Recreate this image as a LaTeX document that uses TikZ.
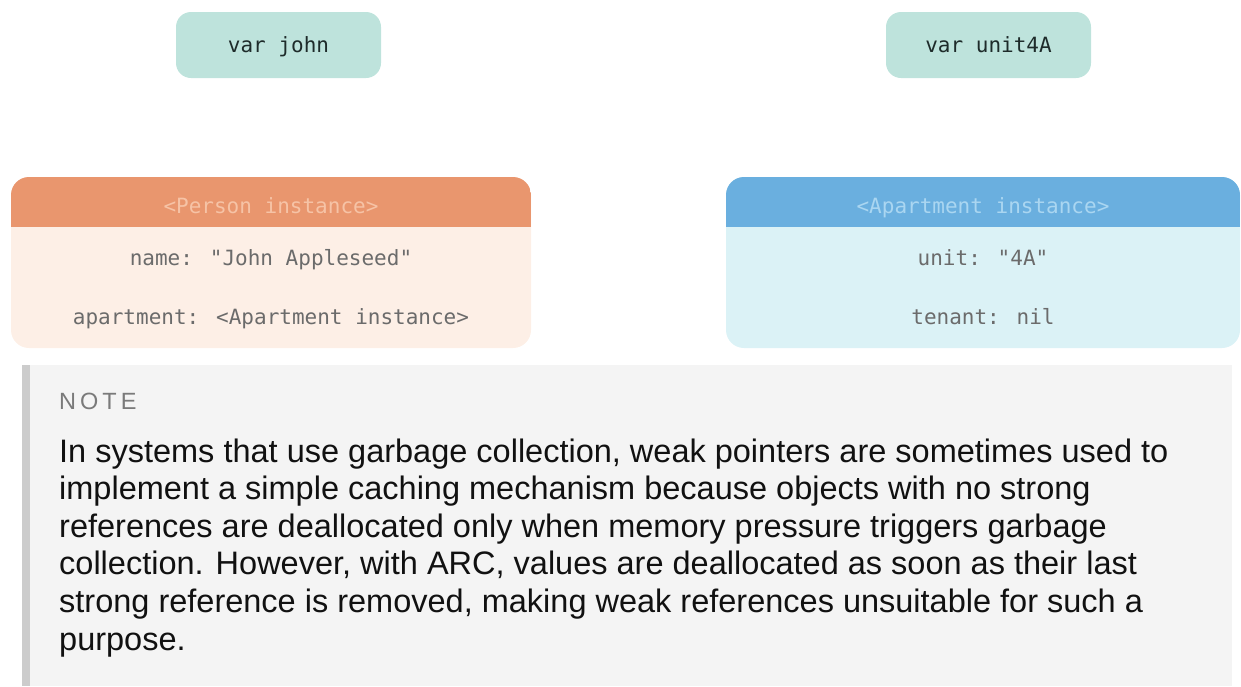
\documentclass[tikz,border=0pt]{standalone}
\usepackage{fontspec}
\setmainfont{Liberation Sans}
\newfontfamily\monof{DejaVu Sans Mono}
\newfontfamily\notefont[LetterSpace=17]{Liberation Sans}
\definecolor{mint}{HTML}{BEE3DC}
\definecolor{phead}{HTML}{E9966E}
\definecolor{pbody}{HTML}{FDEFE6}
\definecolor{ahead}{HTML}{6AAFDF}
\definecolor{abody}{HTML}{DBF2F6}
\definecolor{phtext}{HTML}{F6C3A6}
\definecolor{ahtext}{HTML}{AAD6F1}
\definecolor{fieldtext}{HTML}{6B6B6B}
\definecolor{varText}{HTML}{1E2B2A}
\definecolor{notebg}{HTML}{F4F4F4}
\definecolor{notebar}{HTML}{CCCCCC}
\definecolor{notelabel}{HTML}{7A7A7A}
\definecolor{notetext}{HTML}{111111}
\tikzset{
  varbox/.style={fill=mint, rounded corners=15pt, minimum width=205pt, minimum height=66pt, inner sep=0pt},
  monotext/.style={font=\monof\fontsize{21}{25}\selectfont, inner sep=0pt, anchor=base},
  notelabelstyle/.style={font=\notefont\fontsize{23.5}{27}\selectfont, text=notelabel, inner sep=0pt, anchor=base west},
  noteline/.style={font=\fontsize{32.5}{37.6}\selectfont, text=notetext, inner sep=0pt, anchor=base west},
}
\begin{document}
\begin{tikzpicture}[x=1pt,y=-1pt]
\useasboundingbox (0,0) rectangle (1241,686);
% variables
\node[varbox] (john) at (278.5,45) {};
\node[monotext, text=varText] (johnt) at (278.5,52) {var john};
\node[varbox] (unit) at (988.5,45) {};
\node[monotext, text=varText] (unitt) at (988.5,52) {var unit4A};
% Person instance
\fill[pbody, rounded corners=18pt] (11,177) rectangle (531,348);
\begin{scope}
  \clip[rounded corners=18pt] (11,177) rectangle (531,348);
  \fill[phead] (11,177) rectangle (531,227);
\end{scope}
\node[monotext, text=phtext] (phdr) at (271,213) {<Person instance>};
\node[monotext, text=fieldtext] (pname) at (271,265) {name: "John Appleseed"};
\node[monotext, text=fieldtext] (papt) at (271,324) {apartment: <Apartment instance>};
% Apartment instance
\fill[abody, rounded corners=18pt] (726,177) rectangle (1240,348);
\begin{scope}
  \clip[rounded corners=18pt] (726,177) rectangle (1240,348);
  \fill[ahead] (726,177) rectangle (1240,227);
\end{scope}
\node[monotext, text=ahtext] (ahdr) at (983,213) {<Apartment instance>};
\node[monotext, text=fieldtext] (aunit) at (983,265) {unit: "4A"};
\node[monotext, text=fieldtext] (aten) at (983,324) {tenant: nil};
% Note
\fill[notebg] (22,365) rectangle (1232,686);
\fill[notebar] (22,365) rectangle (30,686);
\node[notelabelstyle] (note) at (59,409) {NOTE};
\node[noteline] (l1) at (59,462) {In systems that use garbage collection, weak pointers are sometimes used to};
\node[noteline] (l2) at (59,499.6) {implement a simple caching mechanism because objects with no strong};
\node[noteline] (l3) at (59,537.2) {references are deallocated only when memory pressure triggers garbage};
\node[noteline] (l4) at (59,574.8) {collection. However, with ARC, values are deallocated as soon as their last};
\node[noteline] (l5) at (59,612.4) {strong reference is removed, making weak references unsuitable for such a};
\node[noteline] (l6) at (59,650) {purpose.};
\end{tikzpicture}
\end{document}
